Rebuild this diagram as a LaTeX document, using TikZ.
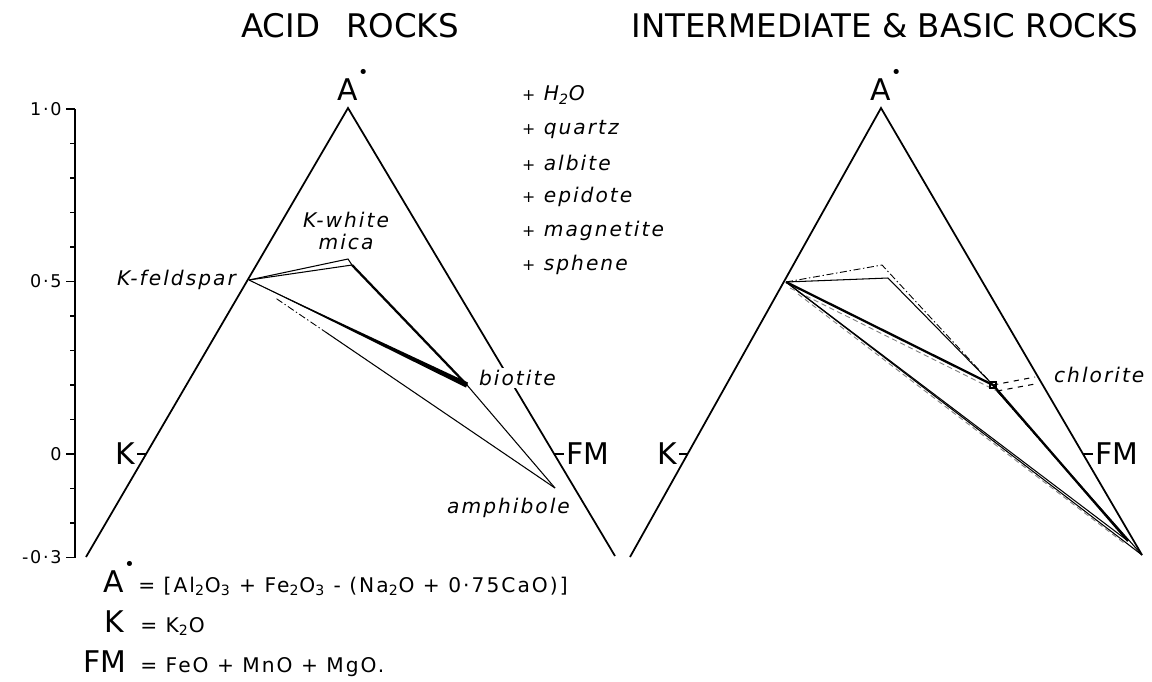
\documentclass[tikz,border=0pt]{standalone}
\usepackage{fontspec}
\setmainfont{DejaVu Sans}
\newfontfamily\letterfont[LetterSpace=10]{DejaVu Sans}
\usetikzlibrary{calc}

\begin{document}
\begin{tikzpicture}[x=0.02cm,y=-0.02cm,
side/.style={line width=1pt},
tie/.style={line width=0.6pt},
heavy/.style={line width=1.3pt},
dashdot/.style={line width=0.5pt,dash pattern=on 4pt off 1.5pt on 0.8pt off 1.5pt},
greydash/.style={line width=0.5pt,gray,dash pattern=on 3pt off 2pt},
title/.style={font=\fontsize{18.5}{20}\selectfont},
corner/.style={font=\fontsize{17}{18}\selectfont,inner sep=0pt},
mineral/.style={font=\letterfont\itshape\fontsize{11.5}{13}\selectfont,inner sep=1pt},
ticklabel/.style={font=\letterfont\fontsize{10}{11}\selectfont,anchor=east,inner sep=0pt},
defn/.style={font=\letterfont\fontsize{11.5}{12}\selectfont,anchor=base west,inner sep=0pt}]

\useasboundingbox (0,0) rectangle (1152,681);

\node[title] (acid) at (350,26) {ACID\hspace{0.8em}ROCKS};
\node[title] (basic) at (885,26) {INTERMEDIATE \& BASIC ROCKS};

% scale
\coordinate (stop) at (75,109);
\coordinate (sbot) at (75,557.5);
\draw[side] (stop) -- (sbot);
\foreach \t in {-3,...,10}
  \draw[tie] (75,{454-34.5*\t}) -- (70,{454-34.5*\t});
\foreach \t/\lab in {10/1·0,5/0·5,0/0,-3/-0·3}{
  \draw[tie] (75,{454-34.5*\t}) -- (66,{454-34.5*\t});
  \node[ticklabel] (val\t) at (62,{454-34.5*\t}) {\lab};
}

% acid rocks
\coordinate (lA) at (348,108);
\coordinate (lK) at (86,557);
\coordinate (lF) at (615,556);
\draw[side] (lK) -- (lA) -- (lF);
\coordinate (lKt) at (146,454);
\coordinate (lFt) at (554,454);
\draw[tie] (lKt) -- ++(-9,0) node[corner,anchor=east,inner sep=1pt] (lKlab) {K};
\draw[tie] (lFt) -- ++(10,0) node[corner,anchor=west,inner sep=1pt] (lFlab) {FM};
\node[corner,anchor=base] (lAlab) at (353,100) {A\raisebox{12pt}{\fontsize{10}{10}\selectfont•}};

\coordinate (lKfs) at (249,280);
\coordinate (lMs1) at (348,259);
\coordinate (lMs2) at (352,265);
\coordinate (lBt) at (467,385);
\coordinate (lAmp) at (555,488);
\draw[tie] (lKfs) -- (lMs1) -- (lMs2);
\draw[tie] (lKfs) -- (lMs2);
\draw[heavy] (lMs2) -- (lBt);
\fill (lKfs) -- ($(lBt)+(1,-2.5)$) -- ($(lBt)+(-1,2.5)$) -- cycle;
\draw[tie] (lKfs) -- (lBt);
\draw[tie] (lBt) -- (lAmp);
\draw[dashdot] ($(lKfs)!0.09!(lAmp)$) -- ($(lKfs)!0.25!(lAmp)$);
\draw[tie] ($(lKfs)!0.25!(lAmp)$) -- (lAmp);

\node[mineral,anchor=east] (kfs) at (238,280) {K-feldspar};
\node[mineral,align=center] (ms) at (346,231) {K-white\\mica};
\node[mineral,anchor=west,fill=white] (bt) at (477,378) {biotite};
\node[mineral,anchor=east] (amp) at (572,508) {amphibole};

\foreach \i/\ph in {0/H\textsubscript{2}O,1/quartz,2/albite,3/epidote,4/magnetite,5/sphene}
  \node[mineral,anchor=west] (extra\i) at (520,{95+34*\i}) {{\upshape\small+} \ph};

% intermediate & basic rocks
\coordinate (rA) at (881,108);
\coordinate (rK) at (630,557);
\coordinate (rF) at (1142,555);
\draw[side] (rK) -- (rA) -- (rF);
\coordinate (rKt) at (688,454);
\coordinate (rFt) at (1083,454);
\draw[tie] (rKt) -- ++(-9,0) node[corner,anchor=east,inner sep=1pt] (rKlab) {K};
\draw[tie] (rFt) -- ++(10,0) node[corner,anchor=west,inner sep=1pt] (rFlab) {FM};
\node[corner,anchor=base] (rAlab) at (886,100) {A\raisebox{12pt}{\fontsize{10}{10}\selectfont•}};

\coordinate (rKfs) at (786,282);
\coordinate (rMs1) at (882,265);
\coordinate (rMs2) at (888,278);
\coordinate (rChl) at (993,385);
\coordinate (rChlb) at (997,391);
\coordinate (rEnd) at (1128,541);
\coordinate (rTie1) at (1035,377);
\coordinate (rTie2) at (1035,384);
\draw[dashdot] (rKfs) -- (rMs1) -- (rChl);
\draw[tie] (rKfs) -- (rMs2) -- (rChl);
\draw[heavy] (rKfs) -- (rChl);
\draw[greydash] ($(rKfs)+(4,6)$) -- (rChlb);
\draw[tie] (rKfs) -- (rEnd);
\draw[tie] (rKfs) -- (rF);
\draw[greydash] ($(rKfs)+(12,12)$) -- ($(rEnd)+(-4,2)$);
\draw[heavy] (rChl) -- (rEnd);
\draw[tie] (rChlb) -- (rF);
\draw[dashdot] (rChlb) -- (rEnd);
\draw[tie] ($(rChl)+(-3,-3)$) rectangle ($(rChl)+(3,3)$);
\draw[tie,dashed] (rChl) -- (rTie1);
\draw[tie,dashed] (rChlb) -- (rTie2);
\node[mineral,anchor=west] (chl) at (1052,375) {chlorite};

% definitions
\node[corner,anchor=base east] (defA) at (135,592) {A\raisebox{12pt}{\fontsize{10}{10}\selectfont•}};
\node[defn] (defAr) at (138,592) {= [Al\textsubscript{2}O\textsubscript{3} + Fe\textsubscript{2}O\textsubscript{3} - (Na\textsubscript{2}O + 0·75CaO)]};
\node[corner,anchor=base east] (defK) at (124,632) {K};
\node[defn] (defKr) at (140,632) {= K\textsubscript{2}O};
\node[corner,anchor=base east] (defFM) at (127,672) {FM};
\node[defn] (defFMr) at (140,672) {= FeO + MnO + MgO.};

\end{tikzpicture}
\end{document}
